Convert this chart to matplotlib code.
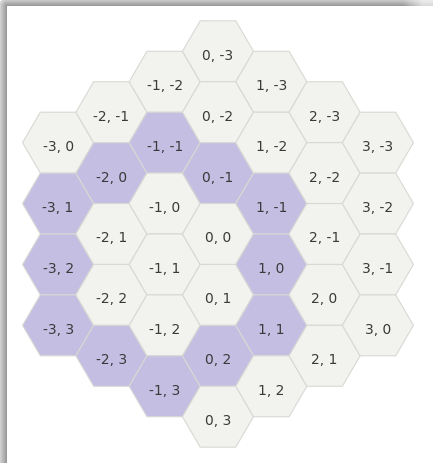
import numpy as np
import matplotlib
matplotlib.use("Agg")
import matplotlib.pyplot as plt
from matplotlib.patches import Polygon

# ---------------------------------------------------------------------------
# Data: axial hex coordinates (q, r), column by column, and the purple ring
# ---------------------------------------------------------------------------
Q = [-3, -3, -3, -3,
     -2, -2, -2, -2, -2,
     -1, -1, -1, -1, -1, -1,
     0, 0, 0, 0, 0, 0, 0,
     1, 1, 1, 1, 1, 1,
     2, 2, 2, 2, 2,
     3, 3, 3, 3]
R = [0, 1, 2, 3,
     -1, 0, 1, 2, 3,
     -2, -1, 0, 1, 2, 3,
     -3, -2, -1, 0, 1, 2, 3,
     -3, -2, -1, 0, 1, 2,
     -3, -2, -1, 0, 1,
     -3, -2, -1, 0]
HIGHLIGHT = [(-1, -1), (0, -1), (1, -1), (1, 0), (1, 1), (0, 2),
             (-1, 3), (-2, 3), (-3, 3), (-3, 2), (-3, 1), (-2, 0)]

W, H = 433, 464
X0, Y0 = 218.0, 235.0      # pixel centre of cell (0, 0)
DX, DY = 53.3, 60.9        # column step / row step
RAD = DX / 1.5             # flat-top hex half width

C_CELL, C_RING = "#f2f2ef", "#c5bee3"
C_EDGE, C_TEXT = "#d8d8d4", "#3a3a3a"

fig = plt.figure(figsize=(W / 100, H / 100), dpi=100)
fig.patch.set_facecolor("white")
ax = fig.add_axes([0, 0, 1, 1])
ax.set_xlim(0, W)
ax.set_ylim(H, 0)
ax.axis("off")

# ---- card shadow along the top and left edges ----
yy, xx = np.mgrid[0:H, 0:W] + 0.5
dx = np.clip(7 - xx, 0, None)
dy = np.clip(7 - yy, 0, None)
dist = np.hypot(dx, dy)
inside = (dist > 0) & (dist < 8)
gray = np.clip(150 + 9 * dist, 0, 255) / 255.0
fade = np.clip((W - xx) / 30.0, 0.35, 1.0)
shade = 1 - (1 - gray) * fade
img = np.ones((H, W, 3))
img[inside] = np.repeat(shade[inside][:, None], 3, axis=1)
ax.imshow(img, extent=[0, W, H, 0], zorder=0, interpolation="nearest")

# ---- hex cells ----
ring = set(HIGHLIGHT)
for q, r in zip(Q, R):
    cx = X0 + DX * q
    cy = Y0 + DY * (r + q / 2)
    verts = [(cx - RAD, cy), (cx - RAD / 2, cy - DY / 2), (cx + RAD / 2, cy - DY / 2),
             (cx + RAD, cy), (cx + RAD / 2, cy + DY / 2), (cx - RAD / 2, cy + DY / 2)]
    face = C_RING if (q, r) in ring else C_CELL
    ax.add_patch(Polygon(verts, closed=True, facecolor=face, edgecolor=C_EDGE,
                         linewidth=0.8, zorder=2))
    ax.text(cx, cy + 7.5, f"{q}, {r}", ha="center", va="baseline",
            fontsize=10, color=C_TEXT, zorder=3)

fig.savefig("out.png", dpi=100, facecolor="white")
